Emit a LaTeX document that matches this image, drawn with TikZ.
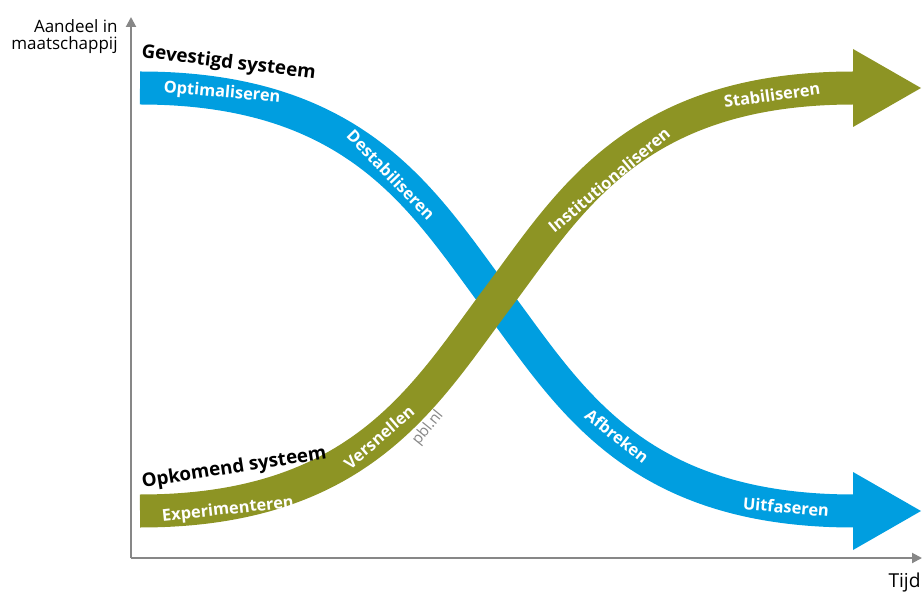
\documentclass[tikz,border=0pt]{standalone}
\usepackage{fontspec}
\setmainfont{Open Sans}
\usepackage{tikz}
\usetikzlibrary{arrows.meta}
\definecolor{oldCol}{RGB}{0,158,224}
\definecolor{newCol}{RGB}{141,148,36}
\definecolor{axisCol}{RGB}{135,135,135}

\begin{document}
\begin{tikzpicture}[
  x=0.5pt, y=-0.5pt,
  every node/.style={inner sep=0pt},
  band/.style n args={1}{line width=16.5pt, draw=#1},
  phase/.style={text=white, font=\bfseries\fontsize{8.2}{9}\selectfont},
  system/.style={text=black, font=\bfseries\fontsize{9.4}{10}\selectfont, anchor=base},
  axislabel/.style={text=black, font=\fontsize{8.5}{8.6}\selectfont},
  axisline/.style={line width=1pt, draw=axisCol, -{Triangle[length=5pt, width=5pt]}},
]
\useasboundingbox (0,0) rectangle (924,592);
% AXES
\coordinate (origin) at (131,558);
\coordinate (ytop) at (131,17);
\coordinate (xend) at (922,558);
\draw[axisline] (origin) -- (ytop);
\draw[axisline] (origin) -- (xend);
\node[axislabel, anchor=north east, align=right] (aandeel) at (118,19) {Aandeel in\\maatschappij};
\node[axislabel, font=\fontsize{9.6}{10}\selectfont, anchor=north east] (tijd) at (921,573) {Tijd};
% GEVESTIGD (blue, falling)
\coordinate (oldStart) at (140,88);
\coordinate (cross) at (496.5,299.5);
\coordinate (oldEnd) at (854,511);
\draw[band=oldCol] (oldStart) .. controls (360,88) and (424.5,203.5) .. (cross)
  .. controls (568.5,395.5) and (633,511) .. (oldEnd);
\fill[oldCol] (853,472) -- (921,511) -- (853,550) -- cycle;
% OPKOMEND (green, rising)
\coordinate (newStart) at (140,511);
\coordinate (newEnd) at (854,88);
\draw[band=newCol] (newStart) .. controls (360,511) and (424.5,395.5) .. (cross)
  .. controls (568.5,203.5) and (633,88) .. (newEnd);
\fill[newCol] (853,49) -- (921,88) -- (853,127) -- cycle;
% system titles
\node[system, rotate=-7] (gevestigd) at (228,68) {Gevestigd systeem};
\node[system, rotate=9] (opkomend) at (235,473) {Opkomend systeem};
% phases
\node[phase, rotate=-5] (optim) at (222,93) {Optimaliseren};
\node[phase, rotate=-46] (destab) at (391,175) {Destabiliseren};
\node[phase, rotate=-38] (afbreken) at (617,436) {Afbreken};
\node[phase, rotate=-5] (uitfas) at (786,507) {Uitfaseren};
\node[phase, rotate=6] (exper) at (228,510) {Experimenteren};
\node[phase, rotate=41] (versn) at (379,437) {Versnellen};
\node[phase, rotate=40] (instit) at (609,180) {Institutionaliseren};
\node[phase, rotate=8] (stabil) at (772,95) {Stabiliseren};
\node[text=axisCol, font=\fontsize{7.6}{8}\selectfont, rotate=51] (pbl) at (428,428) {pbl.nl};
\end{tikzpicture}
\end{document}
